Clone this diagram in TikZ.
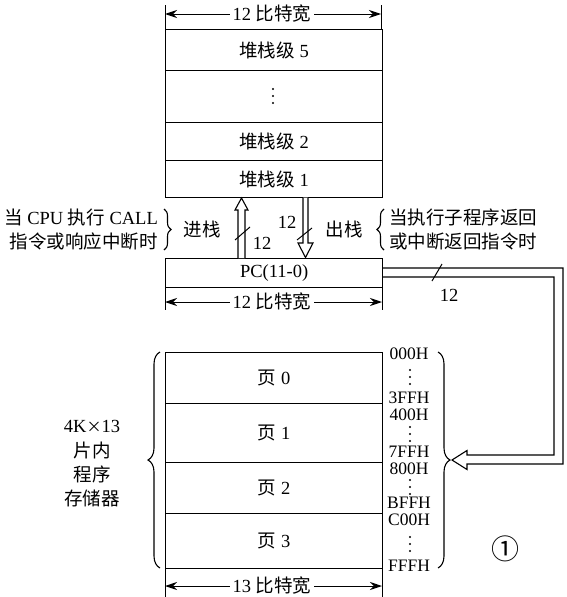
\documentclass[tikz,border=0pt]{standalone}
\usepackage{fontspec}
\setmainfont{Liberation Serif}
\newfontfamily\cjk{Noto Sans CJK SC}
\usetikzlibrary{arrows.meta,decorations.pathreplacing}
\newcommand\zh[1]{{\cjk #1}}
\begin{document}
\begin{tikzpicture}[x=1pt,y=-1pt,font=\fontsize{18.5}{21}\selectfont,
  box/.style={draw,line width=1.3pt,minimum width=217pt,anchor=north west,inner sep=0pt},
  dimline/.style={{Stealth[length=12pt,width=8pt]}-{Stealth[length=12pt,width=8pt]},line width=1pt},
  dimlbl/.style={fill=white,inner sep=3pt},
  tickline/.style={line width=1pt},
  hollow/.style={draw,fill=white,line width=1.1pt,line join=miter},
  brc/.style={decorate,line width=1.1pt},
  addr/.style={font=\fontsize{17.5}{19}\selectfont,inner sep=0pt}]
\useasboundingbox (0,0) rectangle (567,597);

% ---------- stack ----------
\node[box,minimum height=41pt] (s5) at (165,29) {\zh{堆栈级} 5};
\node[box,minimum height=52pt] (sd) at (165,70) {};
\node[box,minimum height=38pt] (s2) at (165,122) {\zh{堆栈级} 2};
\node[box,minimum height=37pt] (s1) at (165,160) {\zh{堆栈级} 1};
\foreach \yy in {89,96,103} \fill (273,\yy) circle (1.2pt);

% top dimension
\draw[tickline] (165,5) -- (165,29);
\draw[tickline] (381,5) -- (381,29);
\draw[dimline] (165,14) -- (381,14);
\node[dimlbl] (w1) at (272,14) {12 \zh{比特宽}};

% ---------- PC ----------
\node[box,minimum height=29pt] (pc) at (165,258) {PC(11-0)};
\draw[tickline] (165,287) -- (165,310);
\draw[tickline] (382,287) -- (382,310);
\draw[dimline] (165,302) -- (382,302);
\node[dimlbl] (w2) at (272,302) {12 \zh{比特宽}};

% push arrow (up)
\draw[hollow] (238,258) -- (238,210) -- (235,210) -- (241.5,198) -- (248,210) -- (245,210) -- (245,258);
\draw[line width=1pt] (235,240) -- (250,227);
\node (n12a) at (262,243) {12};
% pop arrow (down)
\draw[hollow] (303,197.5) -- (303,243) -- (298,243) -- (305.5,257.5) -- (313,243) -- (308,243) -- (308,197.5);
\draw[line width=1pt] (297,240) -- (312,228);
\node (n12b) at (287,222) {12};

% left text
\node[anchor=east,inner sep=0pt] (lt1) at (158,217) {\zh{当} CPU \zh{执行} CALL};
\node[anchor=east,inner sep=0pt] (lt2) at (158,241) {\zh{指令或响应中断时}};
\draw[brc,decoration={brace,amplitude=7pt}] (164,209) -- (164,250);
\node (push) at (202,229) {\zh{进栈}};
% right text
\node (pop) at (344,229) {\zh{出栈}};
\draw[brc,decoration={brace,amplitude=7pt}] (384,250) -- (384,209);
\node[anchor=west,inner sep=0pt] (rt1) at (389,217) {\zh{当执行子程序返回}};
\node[anchor=west,inner sep=0pt] (rt2) at (389,241) {\zh{或中断返回指令时}};

% ---------- bus ----------
\draw[hollow,fill=none] (382.6,268) -- (563,268) -- (563,464) -- (467,464) -- (467,469.5) -- (452,460) -- (467,450.5) -- (467,455) -- (554,455) -- (554,277) -- (382.6,277);
\draw[line width=1pt] (432,281) -- (442,264);
\node (n12c) at (449,295) {12};

% ---------- memory ----------
\node[box,minimum height=51pt] (p0) at (165,352) {\zh{页} 0};
\node[box,minimum height=59pt] (p1) at (165,403) {\zh{页} 1};
\node[box,minimum height=51pt] (p2) at (165,462) {\zh{页} 2};
\node[box,minimum height=55pt] (p3) at (165,513) {\zh{页} 3};
\draw[tickline] (165,568) -- (165,597);
\draw[tickline] (382,568) -- (382,597);
\draw[dimline] (165,586) -- (382,586);
\node[dimlbl] (w3) at (272,586) {13 \zh{比特宽}};

% addresses
\node[addr] (a0) at (409,354) {000H};
\node[addr] (a1) at (409,398) {3FFH};
\node[addr] (a2) at (409,415) {400H};
\node[addr] (a3) at (409,452) {7FFH};
\node[addr] (a4) at (409,469) {800H};
\node[addr] (a5) at (409,503) {BFFH};
\node[addr] (a6) at (409,520) {C00H};
\node[addr] (a7) at (409,566) {FFFH};
\foreach \yy in {370,377,384, 427,434,441, 480,487,494, 537,544,551} \fill (410,\yy) circle (1.2pt);

% braces round memory
\draw[brc,decoration={brace,amplitude=12pt}] (160,568) -- (160,352);
\draw[brc,decoration={brace,amplitude=12pt}] (438,352) -- (438,568);

% left label
\node[inner sep=0pt] (ml1) at (92,426) {4K{\cjk\fontsize{15}{17}\selectfont ×}13};
\node[inner sep=0pt] (ml2) at (92,450) {\zh{片内}};
\node[inner sep=0pt] (ml3) at (92,474) {\zh{程序}};
\node[inner sep=0pt] (ml4) at (92,498) {\zh{存储器}};

\node[font=\fontsize{28}{30}\selectfont\cjk] (circ) at (505,549) {①};
\end{tikzpicture}
\end{document}
